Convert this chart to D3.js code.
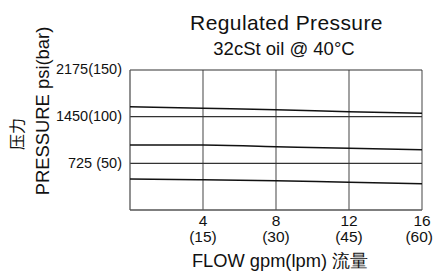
<!DOCTYPE html>
<html lang="en">
<head>
<meta charset="UTF-8">
<title>Regulated Pressure</title>
<style>
body { margin: 0; background: #fff; }
svg { display: block; font-family: "Liberation Sans", Arial, sans-serif; }
</style>
</head>
<body>
<svg width="434" height="272"></svg>
<script src="https://d3js.org/d3.v7.min.js"></script>
<script>
// flow in gpm
var flowGpm = [0, 4, 8, 12, 16];
// regulated pressure curves, psi
var curveHigh = [1605, 1580, 1558, 1527, 1502];
var curveMid = [1010, 1010, 983, 958, 937];
var curveLow = [482, 471, 455, 430, 409];

var xTicks = [4, 8, 12, 16];
var xTickLpm = ["(15)", "(30)", "(45)", "(60)"];
var yTicks = [725, 1450, 2175];
var yTickLabels = ["725 (50)", "1450(100)", "2175(150)"];

var svg = d3.select("svg");
var margin = {top: 70, right: 12, bottom: 62, left: 130};
var width = 434 - margin.left - margin.right;
var height = 272 - margin.top - margin.bottom;

var x = d3.scaleLinear().domain([0, 16]).range([0, width]);
var y = d3.scaleLinear().domain([0, 2175]).range([height, 0]);

var g = svg.append("g")
    .attr("transform", "translate(" + margin.left + "," + margin.top + ")");

// grid
g.selectAll(".vgrid").data(xTicks).enter().append("line")
    .attr("x1", function(d) { return x(d); }).attr("x2", function(d) { return x(d); })
    .attr("y1", 0).attr("y2", height)
    .attr("stroke", "#555").attr("stroke-width", 1.1);

g.selectAll(".hgrid").data(yTicks).enter().append("line")
    .attr("x1", 0).attr("x2", width)
    .attr("y1", function(d) { return y(d); }).attr("y2", function(d) { return y(d); })
    .attr("stroke", "#333").attr("stroke-width", 1.1);

// frame
g.append("line").attr("x1", 0).attr("x2", 0).attr("y1", 0).attr("y2", height)
    .attr("stroke", "#555").attr("stroke-width", 1.3);
g.append("line").attr("x1", 0).attr("x2", width).attr("y1", height).attr("y2", height)
    .attr("stroke", "#555").attr("stroke-width", 1.3);

// curves
var line = d3.line()
    .x(function(d, i) { return x(flowGpm[i]); })
    .y(function(d) { return y(d); })
    .curve(d3.curveMonotoneX);

[curveHigh, curveMid, curveLow].forEach(function(c) {
    g.append("path").datum(c)
        .attr("d", line)
        .attr("fill", "none")
        .attr("stroke", "#111")
        .attr("stroke-width", 1.5);
});

// y tick labels
g.selectAll(".ylab").data(yTicks).enter().append("text")
    .attr("x", -8)
    .attr("y", function(d) { return y(d); })
    .attr("dy", "0.3em")
    .attr("text-anchor", "end")
    .attr("font-size", 14.5)
    .attr("fill", "#111")
    .text(function(d, i) { return yTickLabels[i]; });

// x tick labels (last one kept inside the page edge)
function tickX(d, i) { return i === xTicks.length - 1 ? x(d) + 11 : x(d); }
function tickAnchor(d, i) { return i === xTicks.length - 1 ? "end" : "middle"; }

g.selectAll(".xlab").data(xTicks).enter().append("text")
    .attr("x", function(d) { return x(d); })
    .attr("y", height + 16)
    .attr("text-anchor", "middle")
    .attr("font-size", 15.5)
    .attr("fill", "#111")
    .text(function(d) { return d; });

g.selectAll(".xlab2").data(xTicks).enter().append("text")
    .attr("x", tickX)
    .attr("y", height + 32)
    .attr("text-anchor", tickAnchor)
    .attr("font-size", 15.5)
    .attr("fill", "#111")
    .text(function(d, i) { return xTickLpm[i]; });

// titles
svg.append("text").attr("x", 286.5).attr("y", 30)
    .attr("text-anchor", "middle").attr("font-size", 21).attr("fill", "#111")
    .attr("letter-spacing", 0.4)
    .text("Regulated Pressure");
svg.append("text").attr("x", 284).attr("y", 55)
    .attr("text-anchor", "middle").attr("font-size", 18.5).attr("fill", "#111")
    .text("32cSt oil @ 40°C");

svg.append("text").attr("x", 280).attr("y", 267)
    .attr("text-anchor", "middle").attr("font-size", 18.3).attr("fill", "#111")
    .text("FLOW gpm(lpm) 流量");

svg.append("text")
    .attr("transform", "translate(49,111) rotate(-90)")
    .attr("text-anchor", "middle").attr("font-size", 18.4).attr("fill", "#111")
    .text("PRESSURE psi(bar)");

svg.append("text")
    .attr("transform", "translate(23,134) rotate(-90)")
    .attr("text-anchor", "middle").attr("font-size", 16).attr("fill", "#111")
    .attr("font-family", "Noto Sans CJK SC")
    .text("压力");
</script>
</body>
</html>
